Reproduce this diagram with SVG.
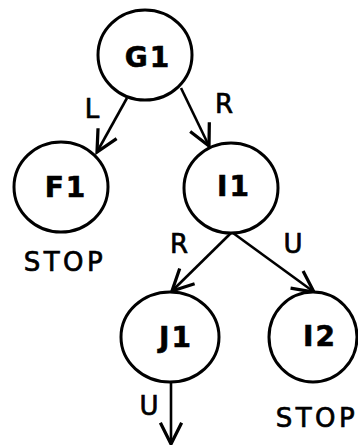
<svg xmlns="http://www.w3.org/2000/svg" width="358" height="445" viewBox="0 0 358 445">
<defs>
<style>
.node ellipse{fill:#fff;stroke:#000;stroke-width:3}
.node text{font-family:"DejaVu Sans",Verdana,sans-serif;font-weight:bold;font-size:28px;text-anchor:middle;letter-spacing:2px;fill:#000;stroke:#000;stroke-width:0.6}
.lbl{font-family:"DejaVu Sans",Verdana,sans-serif;font-size:26px;fill:#000;text-anchor:middle;stroke:#000;stroke-width:0.7}
.stop{letter-spacing:3.5px}
#edges line{stroke:#000;stroke-width:2.6;marker-end:url(#arr)}
</style>
<marker id="arr" markerUnits="userSpaceOnUse" markerWidth="30" markerHeight="30" viewBox="-20 -12 24 24" refX="0" refY="0" orient="auto">
<path d="M-17,-8.5 L0,0 L-17,8.5" fill="none" stroke="#000" stroke-width="2.6"/>
</marker>
</defs>
<rect width="358" height="445" fill="#fff"/>
<g id="edges">
<line x1="127" y1="98" x2="97" y2="152"/>
<line x1="181" y1="88" x2="209" y2="146"/>
<line x1="231" y1="233" x2="172" y2="291"/>
<line x1="233" y1="233" x2="314" y2="292"/>
<line x1="171" y1="382" x2="171" y2="444"/>
<text class="lbl" x="92" y="118">L</text>
<text class="lbl" x="224" y="113">R</text>
<text class="lbl" x="179" y="253">R</text>
<text class="lbl" x="293" y="253">U</text>
<text class="lbl" x="149" y="415">U</text>
</g>
<g id="G1" class="node"><ellipse cx="145" cy="55" rx="47" ry="45"/><text x="148" y="67">G1</text></g>
<g id="F1" class="node"><ellipse cx="61" cy="187" rx="47" ry="45"/><text x="66" y="197">F1</text></g>
<g id="I1" class="node"><ellipse cx="231" cy="188" rx="47" ry="45"/><text x="234" y="196">I1</text></g>
<g id="J1" class="node"><ellipse cx="170" cy="337" rx="49" ry="45"/><text x="176" y="347">J1</text></g>
<g id="I2" class="node"><ellipse cx="313" cy="337" rx="44" ry="45"/><text x="320" y="346">I2</text></g>
<text class="lbl stop" x="65" y="271">STOP</text>
<text class="lbl stop" x="317" y="427">STOP</text>
</svg>
